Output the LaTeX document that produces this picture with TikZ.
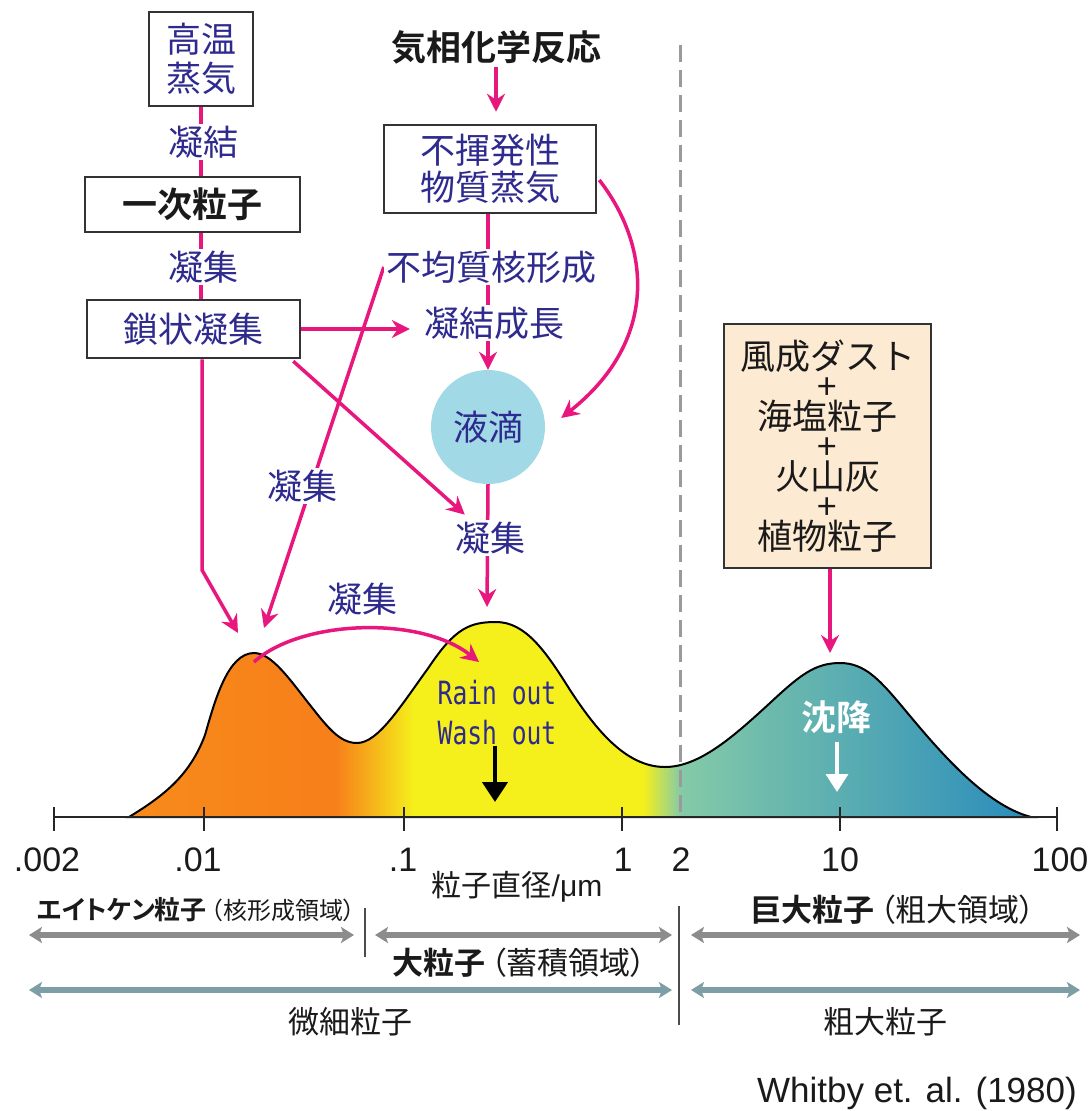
\documentclass[tikz,border=0pt]{standalone}
\usepackage{fontspec}
\setmainfont{Liberation Sans}
\newfontfamily\jp[BoldFont={Noto Sans CJK JP Bold}]{Noto Sans CJK JP}
\newfontfamily\jpn[BoldFont={Noto Sans CJK JP Bold},RawFeature=+palt]{Noto Sans CJK JP}
\newfontfamily\rainfont[FakeStretch=0.77]{DejaVu Sans Mono}
\usetikzlibrary{arrows.meta,positioning,calc}

\definecolor{pk}{HTML}{E8177E}
\definecolor{navy}{HTML}{2E2A8E}
\definecolor{txt}{HTML}{1A1A1A}
\definecolor{boxc}{HTML}{333333}
\definecolor{dropc}{HTML}{A2D9E6}
\definecolor{peach}{HTML}{FDEAD3}
\definecolor{c1}{HTML}{F78B1B}
\definecolor{c1d}{HTML}{F7801A}
\definecolor{c2}{HTML}{F5F01C}
\definecolor{c3}{HTML}{84CAA8}
\definecolor{c4}{HTML}{2A8CBC}
\definecolor{g1}{HTML}{8C8C8C}
\definecolor{g2}{HTML}{7E9EA5}
\definecolor{dashc}{HTML}{9A9A9A}

\pgfdeclarehorizontalshading{psd}{100bp}{color(0bp)=(c1); color(25bp)=(c1); color(35bp)=(c1d); color(36.5bp)=(c1d); color(40.8bp)=(c2); color(53.5bp)=(c2); color(55.6bp)=(c3); color(75bp)=(c4); color(100bp)=(c4)}

\pgfdeclarelayer{bg}
\pgfdeclarelayer{edges}
\pgfsetlayers{bg,edges,main}

\newcommand\jbig{\jp\fontsize{35}{38}\selectfont}
\newcommand\jrow{\jpn\fontsize{31}{31}\selectfont}

\begin{document}
\begin{tikzpicture}[x=1pt, y=-1pt,
  box/.style={draw=boxc, line width=2.5pt, fill=white, align=center, text=navy, font=\jbig, inner sep=0pt},
  lbl/.style={fill=white, inner sep=2pt, text=navy, font=\jbig},
  flow/.style={draw=pk, line width=3.5pt, -{Stealth[length=18pt,width=18pt,inset=6pt]}},
  link/.style={draw=pk, line width=3.5pt},
  spanarrow/.style={line width=5.5pt, {Stealth[length=13pt,width=16pt,inset=3pt]}-{Stealth[length=13pt,width=16pt,inset=3pt]}},
  ticklbl/.style={font=\fontsize{34}{34}\selectfont, text=txt},
  rowlbl/.style={font=\jrow, text=txt, inner sep=0pt}]
\useasboundingbox (0,0) rectangle (1089,1111);

% size distribution
\begin{pgfonlayer}{bg}
\shadedraw[shading=psd, draw=black, line width=2pt]
  (129,817) .. controls (165,795) and (190,775) .. (205,735)
  .. controls (215,700) and (228,653) .. (254,653)
  .. controls (272,653) and (290,680) .. (310,705)
  .. controls (328,728) and (340,743) .. (357,743)
  .. controls (378,743) and (400,707) .. (429,667)
  .. controls (455,628) and (470,622) .. (496,622)
  .. controls (525,622) and (545,650) .. (570,690)
  .. controls (595,728) and (625,767) .. (665,767)
  .. controls (700,767) and (735,735) .. (770,703)
  .. controls (800,675) and (815,663) .. (840,663)
  .. controls (865,663) and (880,680) .. (905,710)
  .. controls (940,752) and (985,805) .. (1031,817) -- cycle;
\end{pgfonlayer}

% axis
\draw[black!85, line width=2.5pt] (54,817) -- (1057,817);
\foreach \x/\lab/\lx [count=\i] in {54/.002/47, 204/.01/198, 404/.1/403, 622/1/623, 840/10/840, 1057/100/1060}{
  \draw[black!85, line width=2.5pt] (\x,807) -- (\x,831);
  \node[ticklbl] (tk\i) at (\lx,860) {\lab};
}
\node[ticklbl] (tk7) at (681,860) {2};
\node[text=txt, inner sep=0pt] (diam) at (517,887) {{\jp\fontsize{30}{30}\selectfont 粒子直径}\fontsize{30}{30}\selectfont/μm};

% left column
\node[box, minimum width=104pt, minimum height=94pt, font=\jp\fontsize{35}{39}\selectfont] (hot) at (201,59) {高温\\蒸気};
\node[box, minimum width=215pt, minimum height=55pt, text=txt, font=\jbig\bfseries] (prim) at (192.5,204.5) {一次粒子};
\node[box, minimum width=213pt, minimum height=58pt] (chain) at (193.5,329) {鎖状凝集};
\node[lbl] (cond) at (203,142) {凝結};
\node[lbl] (agg1) at (203,267) {凝集};

% middle column
\node[text=txt, font=\jbig\bfseries] (gas) at (496,47) {気相化学反応};
\node[box, minimum width=212pt, minimum height=88pt, font=\jp\fontsize{35}{37}\selectfont] (vap) at (490,169) {不揮発性\\物質蒸気};
\node[lbl] (het) at (491,267) {不均質核形成};
\node[lbl] (grow) at (494,323) {凝結成長};
\node[circle, fill=dropc, minimum size=114pt, inner sep=0pt, text=navy, font=\jbig] (drop) at (488,427) {液滴};
\node[lbl] (agg2) at (302,486) {凝集};
\node[lbl] (agg3) at (490,538) {凝集};
\node[lbl] (agg4) at (362,599) {凝集};

% coarse sources
\node[box, fill=peach, text=txt, minimum width=207pt, minimum height=244pt, font=\jp\fontsize{35}{30}\selectfont] (dust) at (827.5,446) {風成ダスト\\+\\海塩粒子\\+\\火山灰\\+\\植物粒子};

% in the modes
\node[text=navy, font=\rainfont\fontsize{32}{40}\selectfont, align=center, inner sep=0pt] (rain) at (497,713) {Rain out\\Wash out};
\node[text=white, font=\jbig\bfseries, inner sep=0pt] (sett) at (836,717) {沈降};

% free ends
\coordinate (bend) at (202,570);
\coordinate (m1) at (238,633);
\coordinate (m1b) at (264,628);
\coordinate (m2) at (487,607);
\coordinate (m3) at (830,653);
\coordinate (arcA) at (254,662);
\coordinate (arcB) at (479,662);
\coordinate (dtop) at (680,45);
\coordinate (dbot) at (680,817);
\coordinate (wash) at (495,802);
\coordinate (settle) at (837,792);

% edges
\begin{pgfonlayer}{edges}
\draw[dashc, line width=3pt, dash pattern=on 17pt off 8pt] (dtop) -- (dbot);
\draw[link] (hot.south) -- (hot.south |- prim.north);
\draw[link] (hot.south |- prim.south) -- (hot.south |- chain.north);
\draw[flow] (bend |- chain.south) -- (bend) -- (m1);
\draw[flow] (chain.east) -- ($(grow.west |- chain.east)+(-12,0)$);
\draw[flow] ($(chain.south east)+(-8,2)$) -- ($(agg3.north west)+(12,-5)$);
\draw[flow] (het.west) -- (m1b);
\draw[flow, shorten >=12pt] (gas.south) -- (gas.south |- vap.north);
\draw[flow] (drop.north |- vap.south) -- (drop.north);
\draw[flow] ($(vap.east)+(2,11)$) .. controls (650,245) and (660,340) .. ($(drop.east)+(16,-9)$);
\draw[flow] (drop.south) -- (m2);
\draw[flow] (arcA) .. controls (300,620) and (420,615) .. (arcB);
\draw[flow] (dust.south -| m3) -- (m3);
\end{pgfonlayer}
\draw[black, line width=4.5pt, -{Triangle[length=20pt,width=25pt]}] (rain.south -| wash) -- (wash);
\draw[white, line width=3.5pt, -{Triangle[length=18pt,width=22pt]}] (sett.south -| settle) ++(0,8) -- (settle);

% size classes
\coordinate (s1) at (29,935);
\coordinate (s2) at (354,935);
\coordinate (s3) at (375,935);
\coordinate (s4) at (672,935);
\coordinate (s5) at (691,935);
\coordinate (s6) at (1080,935);
\coordinate (f1) at (29,990);
\coordinate (f2) at (672,990);
\coordinate (f3) at (691,990);
\coordinate (f4) at (1080,990);
\draw[spanarrow, g1] (s1) -- (s2);
\draw[spanarrow, g1] (s3) -- (s4);
\draw[spanarrow, g1] (s5) -- (s6);
\draw[spanarrow, g2] (f1) -- (f2);
\draw[spanarrow, g2] (f3) -- (f4);
\coordinate (v1) at (365,908);
\coordinate (v2) at (365,957);
\coordinate (v3) at (679,906);
\coordinate (v4) at (679,1025);
\draw[black!70, line width=2pt] (v1) -- (v2);
\draw[black!70, line width=2pt] (v3) -- (v4);

\node[rowlbl, anchor=west] (aitken) at (37,910) {{\bfseries\fontsize{26}{26}\selectfont エイトケン粒子}\hspace{4pt}{\fontsize{24}{24}\selectfont（核形成領域）}};
\node[rowlbl, anchor=west] (giant) at (750,910) {{\bfseries 巨大粒子}\hspace{6pt}（粗大領域）};
\node[rowlbl, anchor=west] (large) at (392,963) {{\bfseries 大粒子}\hspace{6pt}（蓄積領域）};
\node[rowlbl, font=\jp\fontsize{31}{31}\selectfont] (fine) at (350,1022) {微細粒子};
\node[rowlbl, font=\jp\fontsize{31}{31}\selectfont] (coarse) at (885,1022) {粗大粒子};
\node[text=txt, anchor=east, font=\fontsize{35}{35}\selectfont, inner sep=0pt] (cite) at (1077,1093) {Whitby et. al. (1980)};
\end{tikzpicture}
\end{document}
